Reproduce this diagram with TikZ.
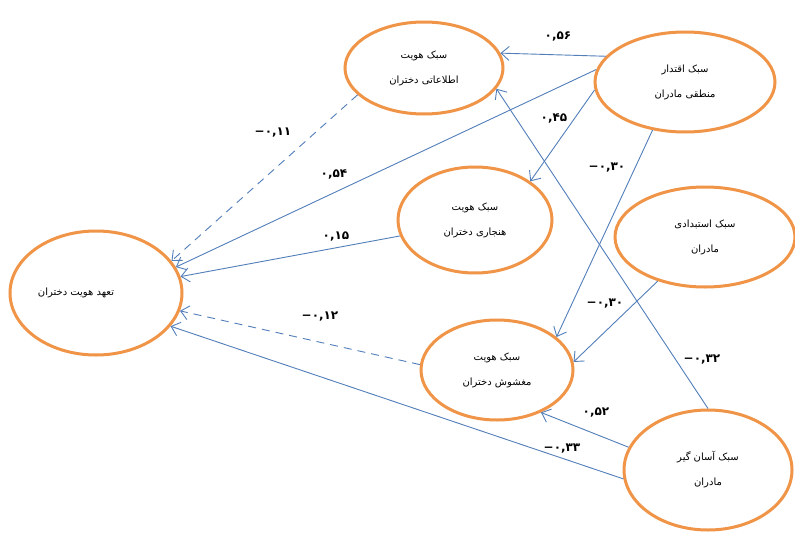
\documentclass[tikz,border=0pt]{standalone}
\usepackage{fontspec}
\usepackage{xcolor}
\usepackage{tikz}
\usetikzlibrary{shapes.geometric, arrows.meta}
\TeXXeTstate=1
\newfontfamily\farsifont[Script=Arabic]{DejaVu Sans}
\newcommand{\rtl}[1]{\beginR#1\endR}
\newcommand{\negsign}{\hbox{−}}
\definecolor{idOrange}{RGB}{240, 148, 72}
\definecolor{idBlue}{RGB}{82, 126, 186}
\tikzset{
    base/.style={
        font=\farsifont\fontsize{10}{25}\selectfont,
        align=center
    },
    construct/.style={
        base,
        ellipse,
        draw=idOrange,
        line width=3pt,
        fill=white,
        inner sep=0pt
    },
    flow/.style={
        -{Straight Barb[length=8pt,width=14pt]},
        color=idBlue,
        line width=0.9pt
    },
    weak/.style={
        flow,
        dash pattern=on 8pt off 6pt
    },
    coef/.style={
        font=\farsifont\fontsize{12}{12}\selectfont\bfseries,
        inner sep=1pt
    }
}

\begin{document}
\begin{tikzpicture}[x=1pt, y=-1pt]
  \fill[white] (0,0) rectangle (795,538);
  \useasboundingbox (0,0) rectangle (795,538);

  % Mothers' styles
  \node[construct, minimum width=180, minimum height=100] (authority) at (685,82)
      {\rtl{سبک اقتدار}\\\rtl{منطقی مادران}};
  \node[construct, minimum width=180, minimum height=100] (autocratic) at (705,237)
      {\rtl{سبک استبدادی}\\\rtl{مادران}};
  \node[construct, minimum width=168, minimum height=120] (permissive) at (708,470)
      {\rtl{سبک آسان گیر}\\\rtl{مادران}};

  % Daughters' identity styles
  \node[construct, minimum width=158, minimum height=92] (info) at (424,68)
      {\rtl{سبک هویت}\\\rtl{اطلاعاتی دختران}};
  \node[construct, minimum width=154, minimum height=106] (normative) at (475,220)
      {\rtl{سبک هویت}\\\rtl{هنجاری دختران}};
  \node[construct, minimum width=152, minimum height=100] (diffused) at (497,370)
      {\rtl{سبک هویت}\\\rtl{مغشوش دختران}};

  % Commitment
  \node[construct, minimum width=172, minimum height=124] (commitment) at (96,293)
      {\rtl{تعهد هویت دختران}\hspace*{40pt}};

  % Paths
  \draw[flow] (authority.162) -- (info.11);
  \draw[flow] (authority.172) -- (commitment.18);
  \draw[flow] (authority.185) -- (normative.35);
  \draw[flow] (authority.236) -- (diffused.29);
  \draw[weak] (info.202) -- (commitment.23);
  \draw[flow] (normative.192) -- (commitment.11);
  \draw[flow] (autocratic.223) -- (diffused.6);
  \draw[weak] (diffused.176) -- (commitment.348);
  \draw[flow] (permissive.90) -- (info.344);
  \draw[flow] (permissive.164) -- (diffused.316);
  \draw[flow] (permissive.186) -- (commitment.336);

  % Coefficients
  \node[coef] (kAuthInfo) at (558,36) {۰,۵۶};
  \node[coef] (kInfoCommit) at (273,133) {\negsign۰,۱۱};
  \node[coef] (kAuthCommit) at (334,174) {۰,۵۴};
  \node[coef] (kNormCommit) at (336,236) {۰,۱۵};
  \node[coef] (kAuthNorm) at (554,118) {۰,۴۵};
  \node[coef] (kAuthDiff) at (607,168) {\negsign۰,۳۰};
  \node[coef] (kAutoDiff) at (605,304) {\negsign۰,۳۰};
  \node[coef] (kDiffCommit) at (320,317) {\negsign۰,۱۲};
  \node[coef] (kPermInfo) at (702,360) {\negsign۰,۳۲};
  \node[coef] (kPermDiff) at (596,412) {۰,۵۲};
  \node[coef] (kPermCommit) at (562,449) {\negsign۰,۳۳};
\end{tikzpicture}
\end{document}
